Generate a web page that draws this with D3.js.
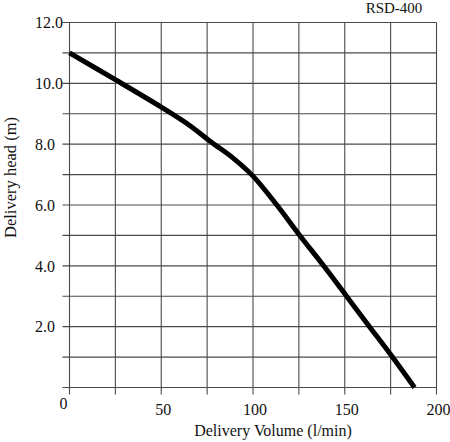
<!DOCTYPE html>
<html><head><meta charset="utf-8">
<script src="https://cdn.jsdelivr.net/npm/d3@7"></script>
<style>body{margin:0;background:#fff}svg{display:block}text{font-family:"Liberation Serif","Times New Roman",serif;fill:#111}</style>
</head><body>
<script>
const flow = [0, 25, 50, 64, 77, 89, 100, 113, 125.5, 138.5, 151, 163.5, 176, 188];
const head = [11.0, 10.12, 9.22, 8.68, 8.08, 7.55, 6.95, 6.0, 5.0, 4.0, 3.0, 2.0, 1.0, 0.0];
const xTicks = [0, 50, 100, 150, 200];
const xGrid = [0, 25, 50, 75, 100, 125, 150, 175, 200];
const yTicks = [2, 4, 6, 8, 10, 12];
const yGrid = [0, 1, 2, 3, 4, 5, 6, 7, 8, 9, 10, 11, 12];
const title = "RSD-400";
const xTitle = "Delivery Volume (l/min)";
const yTitle = "Delivery head (m)";

const W = 450, H = 442;
const svg = d3.select("body").append("svg").attr("width", W).attr("height", H);
const x = d3.scaleLinear().domain([0, 200]).range([69.5, 436.5]);
const y = d3.scaleLinear().domain([0, 12]).range([387.5, 22.5]);
const gc = "#4a4a4a";

// vertical grid lines (extend below as ticks)
svg.append("g").selectAll("line").data(xGrid).join("line")
  .attr("x1", d => x(d)).attr("x2", d => x(d))
  .attr("y1", y(12)).attr("y2", y(0) + 7)
  .attr("stroke", gc).attr("stroke-width", 1.1);
// horizontal grid lines (extend left as ticks)
svg.append("g").selectAll("line").data(yGrid).join("line")
  .attr("x1", x(0) - 7).attr("x2", x(200))
  .attr("y1", d => y(d)).attr("y2", d => y(d))
  .attr("stroke", gc).attr("stroke-width", 1.1);

// y tick labels
svg.append("g").selectAll("text").data(yTicks).join("text")
  .attr("x", 35).attr("y", d => y(d)).attr("dy", "0.36em")
  .attr("font-size", 16).text(d => d.toFixed(1));

// x tick labels
svg.append("g").selectAll("text").data(xTicks).join("text")
  .attr("x", d => d === 0 ? x(d) - 6 : x(d) + 2)
  .attr("y", d => d === 0 ? 409 : 415)
  .attr("text-anchor", "middle").attr("font-size", 16).text(d => d);

// curve
const line = d3.line().x(d => x(d[0])).y(d => y(d[1])).curve(d3.curveCatmullRom.alpha(0.5));
svg.append("path").datum(flow.map((f, i) => [f, head[i]]))
  .attr("d", line).attr("fill", "none").attr("stroke", "#000")
  .attr("stroke-width", 5).attr("stroke-linejoin", "round");

// titles
svg.append("text").attr("x", 394).attr("y", 13).attr("text-anchor", "middle")
  .attr("font-size", 15).text(title);
svg.append("text").attr("x", 273).attr("y", 436).attr("text-anchor", "middle")
  .attr("font-size", 16).text(xTitle);
svg.append("text").attr("transform", "translate(15.5,177.5) rotate(-90)")
  .attr("text-anchor", "middle").attr("font-size", 16.5).text(yTitle);
</script>
</body></html>
